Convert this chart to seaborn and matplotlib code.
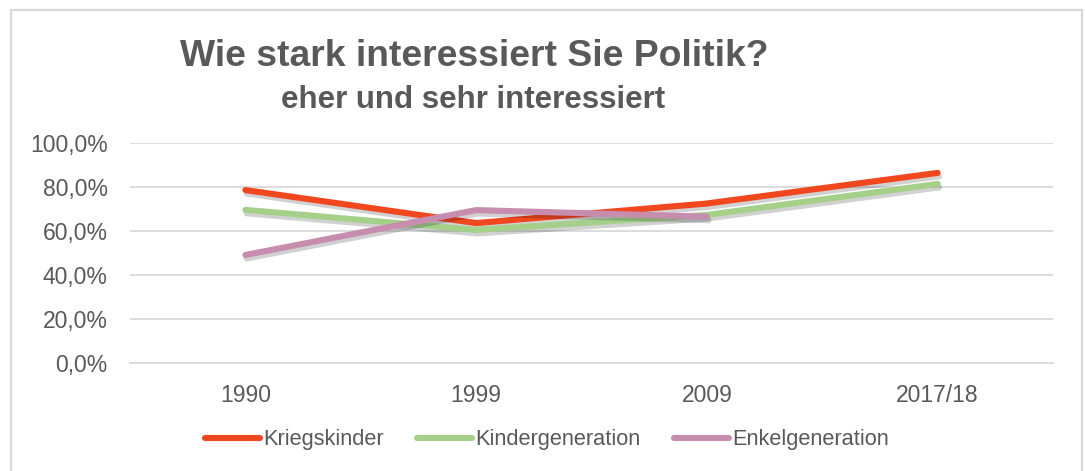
import matplotlib.pyplot as plt
import matplotlib.patheffects as pe
from matplotlib.patches import Rectangle
from matplotlib.lines import Line2D
from matplotlib.ticker import FuncFormatter
import seaborn as sns
import pandas as pd

years = ['1990', '1999', '2009', '2017/18']
kriegskinder = [78.6, 63.6, 72.5, 86.4]
kindergeneration = [69.6, 60.5, 67.3, 81.4]
enkelgeneration = [49.1, 69.5, 66.5, None]

series_names = ['Kriegskinder', 'Kindergeneration', 'Enkelgeneration']
colors = ['#F0471F', '#A4D08A', '#C68DAE']
grey_text = '#595959'

df = pd.DataFrame({
	'Jahr': years * 3,
	'Wert': [v / 100 if v is not None else None for v in kriegskinder + kindergeneration + enkelgeneration],
	'Gruppe': [n for n in series_names for _ in years],
})
df = df.dropna()

sns.set_style('white')
plt.rcParams['font.family'] = ['Liberation Sans', 'DejaVu Sans']

fig = plt.figure(figsize=(10.85, 4.71), dpi=100)
ax = fig.add_axes([130 / 1085, 1 - 363 / 471, (1053 - 130) / 1085, 220 / 471])

ax = sns.lineplot(data=df, x='Jahr', y='Wert', hue='Gruppe', hue_order=series_names,
				  palette=colors, linewidth=4.4, ax=ax, sort=False, legend=False)
for line in ax.get_lines():
	line.set_solid_capstyle('round')
	line.set_path_effects([pe.SimpleLineShadow(offset=(1, -2.5), shadow_color='black', alpha=0.18),
						   pe.Normal()])

ax.set_xlim(-0.5, 3.5)
ax.set_ylim(0, 1.0)
ax.set_yticks([0, 0.2, 0.4, 0.6, 0.8, 1.0])
ax.yaxis.set_major_formatter(FuncFormatter(lambda v, p: ('%.1f%%' % (v * 100)).replace('.', ',')))
ax.grid(axis='y', color='#D9D9D9', linewidth=1.3)
ax.grid(axis='x', visible=False)
for s in ['top', 'right', 'left']:
	ax.spines[s].set_visible(False)
ax.spines['bottom'].set_color('#D9D9D9')
ax.spines['bottom'].set_linewidth(1.3)
ax.tick_params(axis='y', labelsize=16.5, colors=grey_text, length=0, pad=16)
ax.tick_params(axis='x', labelsize=16.5, colors=grey_text, length=0, pad=15)
ax.set_xlabel('')
ax.set_ylabel('')

handles = [Line2D([], [], color=c, linewidth=4.4, solid_capstyle='round') for c in colors]
fig.legend(handles, series_names, loc='center', bbox_to_anchor=(547 / 1085, 1 - 440 / 471), ncol=3,
		   frameon=False, fontsize=15.7, handlelength=2.5, handletextpad=0.15, columnspacing=1.55,
		   labelcolor=grey_text)

fig.text(474 / 1085, 1 - 57 / 471, 'Wie stark interessiert Sie Politik?', ha='center', va='center',
		 fontsize=26.8, fontweight='bold', color=grey_text)
fig.text(473 / 1085, 1 - 100 / 471, 'eher und sehr interessiert', ha='center', va='center',
		 fontsize=22.5, fontweight='bold', color=grey_text)

fig.patches.append(Rectangle((11 / 1085, -0.05), 1071 / 1085, 1.05 - 10 / 471, transform=fig.transFigure,
							 fill=False, edgecolor='#D9D9D9', linewidth=1.6))

plt.savefig('out.png', dpi=100)
